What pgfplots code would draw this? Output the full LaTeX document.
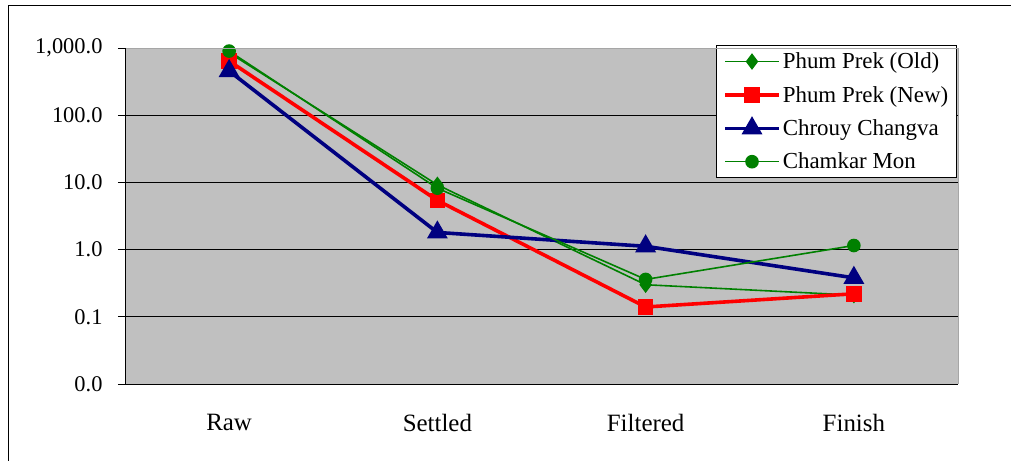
\documentclass[border=0pt]{standalone}
\usepackage{fontspec}
\setmainfont{Liberation Serif}
\usepackage{pgfplots}
\pgfplotsset{compat=1.18}
\newcommand\ftick{\fontsize{22.5}{26}\selectfont}
\newcommand\fleg{\fontsize{23}{26}\selectfont}
\newcommand\fcat{\fontsize{25}{29}\selectfont}
\definecolor{xlgreen}{RGB}{0,128,0}
\definecolor{xlnavy}{RGB}{0,0,128}
\definecolor{xlgray}{RGB}{192,192,192}
\begin{document}
\begin{tikzpicture}
\begin{axis}[
  scale only axis, width=833bp, height=336bp,
  ymode=log, ymin=0.01, ymax=1000,
  xmin=-0.5, xmax=3.5,
  axis background/.style={fill=xlgray},
  axis line style={draw=none},
  axis x line*=bottom, axis y line*=left,
  xtick={0,1,2,3}, xticklabels={Raw,Settled,Filtered,Finish},
  major x tick style={draw=none},
  extra x ticks={0.5,1.5,2.5}, extra x tick labels={},
  extra x tick style={tick style={black, line width=0.8pt}, major tick length=7bp, tick align=outside, grid=none},
  ytick={0.01,0.1,1,10,100,1000},
  yticklabels={0.0,0.1,1.0,10.0,100.0,{1,000.0}},
  minor ytick={}, yminorticks=false,
  ymajorgrids, major grid style={black, line width=0.8pt},
  y tick style={black, line width=0.8pt}, major tick length=7bp, tick align=outside,
  xticklabel style={font=\fcat, yshift=-20bp},
  yticklabel style={font=\ftick, xshift=-12bp},
  legend style={at={(0.999,1.009)}, anchor=north east, font=\fleg, draw=black, line width=0.8pt, fill=white, inner xsep=6.5bp, inner ysep=5.5bp, row sep=12bp, cells={anchor=west}},
  legend image code/.code={\draw[#1] (0bp,0bp) -- (27bp,0bp) plot coordinates {(27bp,0bp)} -- (54bp,0bp);},
  clip=false,
]
\addplot[xlgreen, line width=1.6bp, mark=diamond*, mark size=7bp, mark options={solid}] coordinates {(0,850) (1,9.2) (2,0.30) (3,0.21)};
\addlegendentry{Phum Prek (Old)}
\addplot[red, line width=3.6bp, mark=square*, mark size=6bp] coordinates {(0,640) (1,5.4) (2,0.14) (3,0.22)};
\addlegendentry{Phum Prek (New)}
\addplot[xlnavy, line width=3.6bp, mark=triangle*, mark size=8.5bp] coordinates {(0,455) (1,1.8) (2,1.12) (3,0.38)};
\addlegendentry{Chrouy Changva}
\addplot[xlgreen, line width=1.6bp, mark=*, mark size=6bp] coordinates {(0,900) (1,8.2) (2,0.36) (3,1.15)};
\addlegendentry{Chamkar Mon}
\end{axis}
\draw[gray!70, line width=0.8pt] (current axis.north west) -- (current axis.north east) -- (current axis.south east);
\draw[black, line width=0.8pt] (current axis.north west) -- (current axis.south west) -- (current axis.south east);
\draw[black, line width=0.8pt, overlay] ([xshift=-117bp,yshift=-90bp]current axis.south west) rectangle ([xshift=70bp,yshift=43bp]current axis.north east);
\pgfresetboundingbox
\useasboundingbox ([xshift=-125bp,yshift=-77bp]current axis.south west) rectangle ([xshift=53bp,yshift=48bp]current axis.north east);
\end{tikzpicture}
\end{document}
